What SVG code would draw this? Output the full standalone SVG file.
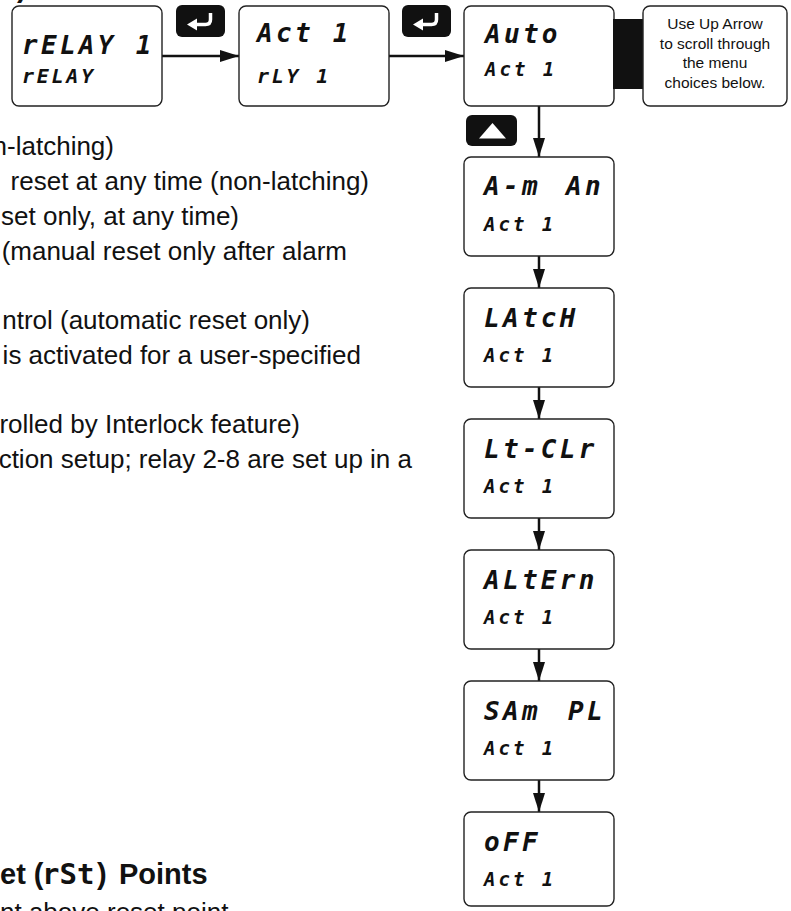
<svg xmlns="http://www.w3.org/2000/svg" width="791" height="911" viewBox="0 0 791 911">
<defs>
<style>
.box{fill:#fff;stroke:#222;stroke-width:1.4}
.lcd{font-family:"DejaVu Sans Mono",monospace;font-weight:bold;font-style:italic;fill:#111}
.big{font-size:26px;letter-spacing:3.3px}
.mid{font-size:20px;letter-spacing:2.75px}
.small{font-size:19px;letter-spacing:3px}
.body{font-family:"Liberation Sans",Arial,sans-serif;font-size:26px;fill:#111}
.head{font-family:"Liberation Sans",Arial,sans-serif;font-size:29px;font-weight:bold;fill:#111}
.note{font-family:"Liberation Sans",Arial,sans-serif;font-size:15.5px;fill:#111;text-anchor:middle}
.key{fill:#111}
.conn{stroke:#111;stroke-width:2.5;fill:none;marker-end:url(#ah)}
</style>
<marker id="ah" markerUnits="userSpaceOnUse" markerWidth="19" markerHeight="12" viewBox="0 0 19 12" refX="19" refY="6" orient="auto">
<path d="M0,0 L19,6 L0,12 z" fill="#111"/>
</marker>
</defs>
<rect width="791" height="911" fill="#fff"/>

<g id="page-text">
<text class="head" x="17" y="-3">)</text>
<g class="body" text-anchor="end">
<text x="114" y="155">n-latching)</text>
<text x="369" y="190">reset at any time (non-latching)</text>
<text x="239" y="225">set only, at any time)</text>
<text x="347" y="260">(manual reset only after alarm</text>
<text x="310" y="329">ntrol (automatic reset only)</text>
<text x="361" y="364">is activated for a user-specified</text>
<text x="300" y="433">rolled by Interlock feature)</text>
<text x="412" y="468">ction setup; relay 2-8 are set up in a</text>
</g>
<text class="head" x="0" y="884">et (<tspan class="lcd" x="42" style="font-size:29px;font-style:normal">rSt</tspan><tspan x="97">)</tspan><tspan x="119">Points</tspan></text>
<text class="body" x="0" y="921">nt above reset point</text>
</g>

<g id="connectors">
<line class="conn" x1="162" y1="56" x2="239" y2="56"/>
<line class="conn" x1="389" y1="56" x2="464" y2="56"/>
<line class="conn" x1="539" y1="106" x2="539" y2="157"/>
<line class="conn" x1="539" y1="256" x2="539" y2="288"/>
<line class="conn" x1="539" y1="387" x2="539" y2="419"/>
<line class="conn" x1="539" y1="518" x2="539" y2="550"/>
<line class="conn" x1="539" y1="649" x2="539" y2="681"/>
<line class="conn" x1="539" y1="780" x2="539" y2="812"/>
</g>

<g id="key-enter-1">
<rect class="key" x="176" y="5" width="49" height="32" rx="6"/>
<path d="M210.5,13 V19.5 Q210.5,24.5 205.5,24.5 H195" stroke="#fff" stroke-width="3.5" fill="none"/>
<polygon points="187,24.5 197,18.5 197,30.5" fill="#fff"/>
</g>
<g id="key-enter-2">
<rect class="key" x="402" y="5" width="49" height="32" rx="6"/>
<path d="M436.5,13 V19.5 Q436.5,24.5 431.5,24.5 H421" stroke="#fff" stroke-width="3.5" fill="none"/>
<polygon points="413,24.5 423,18.5 423,30.5" fill="#fff"/>
</g>
<g id="key-up">
<rect class="key" x="466" y="115" width="51" height="31" rx="6"/>
<polygon points="479,138.5 506,138.5 492.5,123" fill="#fff"/>
</g>

<g id="node-relay">
<rect class="box" x="12" y="6" width="150" height="100" rx="7"/>
<text class="lcd big" x="22" y="54">rELAY 1</text>
<text class="lcd mid" x="22" y="83">rELAY</text>
</g>
<g id="node-act">
<rect class="box" x="239" y="6" width="150" height="100" rx="7"/>
<text class="lcd big" x="257" y="42">Act 1</text>
<text class="lcd mid" x="257" y="83">rLY 1</text>
</g>
<g id="node-auto">
<rect class="box" x="464" y="6" width="150" height="100" rx="7"/>
<text class="lcd big" x="485" y="43">Auto</text>
<text class="lcd small" x="485" y="76">Act 1</text>
</g>
<g id="note">
<rect x="613" y="19" width="31" height="70" fill="#111"/>
<rect class="box" x="643" y="6" width="144" height="100" rx="7"/>
<text class="note" x="715" y="29">Use Up Arrow</text>
<text class="note" x="715" y="48.5">to scroll through</text>
<text class="note" x="715" y="68">the menu</text>
<text class="note" x="715" y="87.5">choices below.</text>
</g>

<g id="node-aman">
<rect class="box" x="464" y="157" width="150" height="99" rx="7"/>
<text class="lcd big" x="484" y="195">A-m<tspan x="566">An</tspan></text>
<text class="lcd small" x="484" y="231">Act 1</text>
</g>
<g id="node-latch">
<rect class="box" x="464" y="288" width="150" height="99" rx="7"/>
<text class="lcd big" x="484" y="327">LAtcH</text>
<text class="lcd small" x="484" y="362">Act 1</text>
</g>
<g id="node-ltclr">
<rect class="box" x="464" y="419" width="150" height="99" rx="7"/>
<text class="lcd big" x="484" y="458">Lt-CLr</text>
<text class="lcd small" x="484" y="493">Act 1</text>
</g>
<g id="node-altern">
<rect class="box" x="464" y="550" width="150" height="99" rx="7"/>
<text class="lcd big" x="484" y="589">ALtErn</text>
<text class="lcd small" x="484" y="624">Act 1</text>
</g>
<g id="node-sampl">
<rect class="box" x="464" y="681" width="150" height="99" rx="7"/>
<text class="lcd big" x="484" y="720">SAm<tspan x="568">PL</tspan></text>
<text class="lcd small" x="484" y="755">Act 1</text>
</g>
<g id="node-off">
<rect class="box" x="464" y="812" width="150" height="94" rx="7"/>
<text class="lcd big" x="484" y="851">oFF</text>
<text class="lcd small" x="484" y="886">Act 1</text>
</g>
</svg>
